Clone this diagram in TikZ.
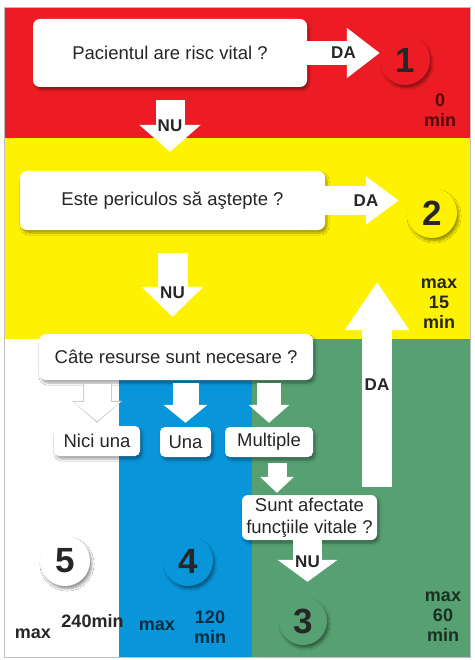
\documentclass[tikz,border=0pt]{standalone}
\usepackage{fontspec}
\setmainfont{Liberation Sans}
\usetikzlibrary{arrows.meta,shadows.blur,positioning}
\definecolor{triagered}{HTML}{ED1C24}
\definecolor{triageyellow}{HTML}{FFF200}
\definecolor{triageblue}{HTML}{0995D9}
\definecolor{triagegreen}{HTML}{56A072}
\tikzset{
  question/.style={fill=white, rounded corners=7pt, inner sep=0pt, align=center,
    font=\fontsize{18.5}{22}\selectfont, text=black!85,
    blur shadow={shadow xshift=2pt, shadow yshift=-3pt, shadow opacity=35, shadow blur steps=6}},
  level/.style={circle, minimum size=50pt, inner sep=0pt,
    font=\fontsize{35}{35}\selectfont\bfseries, text=black!85,
    blur shadow={shadow xshift=2pt, shadow yshift=-3pt, shadow opacity=40, shadow blur steps=6}},
  blockarrow/.style n args={3}{draw=white, line width=#1, -{Triangle[width=#2, length=#3]}},
  arrowlabel/.style={font=\fontsize{17}{17}\selectfont\bfseries, text=black!85},
  waittime/.style={align=center, font=\fontsize{18}{20}\selectfont\bfseries},
}
\begin{document}
\begin{tikzpicture}[x=1pt, y=-1pt]
	\useasboundingbox (0,0) rectangle (474,660);
	% bands
	\fill[white] (0,0) rectangle (474,660);
	\fill[triagered] (4,7) rectangle (470,138);
	\fill[triageyellow] (4,138) rectangle (470,339);
	\fill[white] (4,339) rectangle (119,657);
	\fill[triageblue] (119,339) rectangle (252,657);
	\fill[triagegreen] (252,339) rectangle (470,657);
	\draw[black!25, line width=0.6pt] (4,7) rectangle (470,657);
	% questions
	\node[question, minimum width=274pt, minimum height=68pt] (q1) at (170,53) {Pacientul are risc vital ?};
	\node[question, minimum width=305pt, minimum height=59pt] (q2) at (172.5,200.5) {Este periculos să aştepte ?};
	\node[question, minimum width=274pt, minimum height=46pt] (q3) at (176,357) {Câte resurse sunt necesare ?};
	\node[question, minimum width=86pt, minimum height=30pt, rounded corners=5pt] (n0) at (97,441) {Nici una};
	\node[question, minimum width=51pt, minimum height=30pt, rounded corners=5pt] (n1) at (185.5,442) {Una};
	\node[question, minimum width=88pt, minimum height=30pt, rounded corners=5pt] (n2) at (269,442) {Multiple};
	\node[question, minimum width=135pt, minimum height=45pt, rounded corners=6pt] (q4) at (309.5,517.5) {Sunt afectate\\funcţiile vitale ?};
	% levels
	\node[level, fill=triagered] (c1) at (405,60) {1};
	\node[level, fill=triageyellow] (c2) at (432,213) {2};
	\node[level, fill=triagegreen, minimum size=48pt] (c3) at (303,621) {3};
	\node[level, fill=triageblue] (c4) at (188,561) {4};
	\node[level, fill=white] (c5) at (65,561) {5};
	% waiting times
	\node[waittime, text=triagered!35!black] (t1) at (440,110) {0\\min};
	\node[waittime, text=black!85] (t2) at (439,304) {max\\15\\min};
	\node[waittime, text=triagegreen!30!black] (t3) at (443,617) {max\\60\\min};
	\node[waittime, text=triageblue!30!black] (t4) at (210,627) {120\\min};
	\node[waittime, text=triageblue!30!black] (t4m) at (157,626) {max};
	\node[waittime, text=black!85] (t5) at (92.5,621) {240min};
	\node[waittime, text=black!85] (t5m) at (33,634) {max};
	% arrows
	\draw[blockarrow={24pt}{48pt}{33pt}] (q1.east) -- (q1.east -| c1.west) node[arrowlabel, midway] {DA};
	\draw[blockarrow={28pt}{46pt}{33pt}, shorten >=8pt] (q2.east) -- (q2.east -| c2.west) node[arrowlabel, midway] {DA};
	\draw[blockarrow={29pt}{60pt}{27pt}, shorten <=13pt, shorten >=19pt] (q1.south) -- (q1.south |- q2.north) node[arrowlabel, pos=0.46] {NU};
	\draw[blockarrow={30pt}{60pt}{30pt}, shorten <=23pt, shorten >=17pt] (q2.south) -- (q2.south |- q3.north) node[arrowlabel, pos=0.6] {NU};
	\draw[blockarrow={29pt}{49pt}{22pt}, draw=black!20, shorten <=3pt, shorten >=3pt] (n0.north |- q3.south) -- (n0.north);
	\draw[blockarrow={27pt}{45pt}{19pt}, shorten <=3.8pt, shorten >=4.6pt] (n0.north |- q3.south) -- (n0.north);
	\draw[blockarrow={26pt}{43pt}{18pt}, shorten <=3pt, shorten >=4pt] (n1.north |- q3.south) -- (n1.north);
	\draw[blockarrow={24pt}{40pt}{18pt}, shorten <=3pt, shorten >=4pt] (n2.north |- q3.south) -- (n2.north);
	\draw[blockarrow={19pt}{33pt}{16pt}, shorten <=6pt, shorten >=2pt] ([xshift=8pt]n2.south) -- ([xshift=8pt]n2.south |- q4.north);
	\draw[blockarrow={29pt}{59pt}{22pt}, shorten >=15pt] ([xshift=-2pt]q4.south) -- ([xshift=-2pt]q4.south |- c3.north) node[arrowlabel, pos=0.38] {NU};
	\coordinate (daS) at (377,487);
	\coordinate (daE) at (377,282);
	\draw[blockarrow={30pt}{61pt}{48pt}] (daS) -- (daE) node[arrowlabel, midway] {DA};
\end{tikzpicture}
\end{document}
